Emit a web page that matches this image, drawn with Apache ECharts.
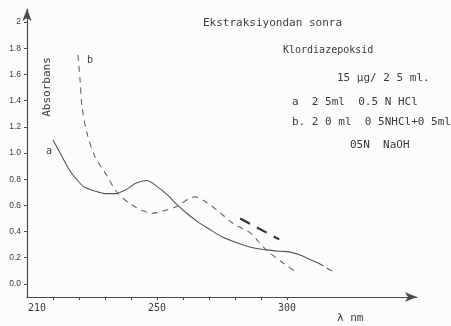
<!DOCTYPE html>
<html>
<head>
<meta charset="utf-8">
<script src="https://cdn.jsdelivr.net/npm/echarts@6.0.0/dist/echarts.min.js"></script>
<style>
  html, body { margin: 0; padding: 0; background: #fcfcfc; }
  #chart { width: 451px; height: 326px; }
</style>
</head>
<body>
<div id="chart"></div>
<script>
// curve a  (2.5 ml 0.5 N HCl), solid
var aX = [210, 213, 216, 219, 222, 226, 230, 234, 238, 242, 246, 250, 254, 258, 262, 266, 270, 275, 280, 286, 292, 297, 301, 305, 309, 312];
var aY = [1.10, 0.99, 0.88, 0.80, 0.74, 0.71, 0.69, 0.69, 0.72, 0.77, 0.79, 0.745, 0.68, 0.60, 0.53, 0.47, 0.42, 0.36, 0.32, 0.28, 0.26, 0.25, 0.245, 0.22, 0.185, 0.16];
// tail of curve a is drawn dashed
var aTailX = [312, 315, 318];
var aTailY = [0.16, 0.125, 0.09];

// curve b  (2.0 ml 0.5N HCl + 0.5 ml 0.5N NaOH), dashed
var bX = [219.6, 220.4, 221.2, 223.1, 226.2, 230, 235, 241.5, 248, 252.3, 258, 262, 264.6, 268.5, 273, 279, 285.8, 292, 298.5, 304];
var bY = [1.75, 1.56, 1.35, 1.15, 0.97, 0.85, 0.69, 0.59, 0.54, 0.557, 0.595, 0.65, 0.665, 0.63, 0.565, 0.465, 0.39, 0.26, 0.16, 0.084];

// short heavy pen stroke above curve b
var cX = [282, 297];
var cY = [0.50, 0.34];

var yTicks = [0, 0.2, 0.4, 0.6, 0.8, 1.0, 1.2, 1.4, 1.6, 1.8, 2];
var xTicks = [210, 220, 230, 240, 250, 260, 270, 280, 290, 300];
var xLabels = [210, 250, 300];

var noteLines = [
  'Ekstraksiyondan sonra',
  'Klordiazepoksid',
  '15 µg/ 2 5 ml.',
  'a  2 5ml  0.5 N HCl',
  'b. 2 0 ml  0 5NHCl+0 5ml',
  '05N  NaOH'
];

function pairs(xs, ys) {
  return xs.map(function (x, i) { return [x, ys[i]]; });
}

var ink = '#3c3c3c';
var mono = 'DejaVu Sans Mono';
var noteX = [203, 283, 337, 292, 292, 350];
var noteY = [23, 50, 78, 102, 122, 145];
var noteSize = [11, 10, 11, 11, 11, 11];

var graphics = noteLines.map(function (t, i) {
  return {
    type: 'text', x: noteX[i], y: noteY[i],
    style: { text: t, fill: ink, font: noteSize[i] + 'px "' + mono + '"', verticalAlign: 'middle' }
  };
});
graphics.push({
  type: 'text', x: 47.5, y: 87, rotation: Math.PI / 2,
  style: { text: 'Absorbans', fill: ink, font: '11px "' + mono + '"', align: 'center', verticalAlign: 'middle' }
});
graphics.push({ type: 'text', x: 46, y: 151, style: { text: 'a', fill: ink, font: '10px "' + mono + '"', verticalAlign: 'middle' } });
graphics.push({ type: 'text', x: 87, y: 60, style: { text: 'b', fill: ink, font: '10px "' + mono + '"', verticalAlign: 'middle' } });
graphics.push({ type: 'text', x: 337, y: 318, style: { text: 'λ nm', fill: ink, font: '11px "' + mono + '"', verticalAlign: 'middle' } });

var option = {
  backgroundColor: '#fcfcfc',
  animation: false,
  grid: { left: 27, right: 34, top: 9, bottom: 29 },
  xAxis: {
    type: 'value',
    min: 200,
    max: 350,
    splitLine: { show: false },
    axisLine: { onZero: false, symbol: ['none', 'arrow'], symbolSize: [7, 12], lineStyle: { color: '#4a4a4a', width: 1.2 } },
    axisTick: { customValues: xTicks, length: 3, lineStyle: { color: '#4a4a4a' } },
    axisLabel: {
      customValues: xLabels,
      margin: 6,
      color: ink,
      fontFamily: mono,
      fontSize: 10,
      formatter: function (v) { return v === 210 ? '{l|210}' : String(v); },
      rich: { l: { padding: [0, 32, 0, 0], fontFamily: mono, fontSize: 10, color: ink } }
    }
  },
  yAxis: {
    type: 'value',
    min: -0.1,
    max: 2.1,
    splitLine: { show: false },
    axisLine: { show: true, onZero: false, symbol: ['none', 'arrow'], symbolSize: [7, 12], lineStyle: { color: '#4a4a4a', width: 1.2 } },
    axisTick: { customValues: yTicks, length: 3, lineStyle: { color: '#4a4a4a' } },
    axisLabel: {
      customValues: yTicks,
      margin: 6,
      color: ink,
      fontFamily: 'Liberation Sans',
      fontSize: 8.5,
      formatter: function (v) { return v === 2 ? '2' : v.toFixed(1); }
    }
  },
  series: [
    {
      name: 'a', type: 'line', data: pairs(aX, aY), smooth: 0.3, showSymbol: false,
      lineStyle: { color: '#555', width: 1.1 }
    },
    {
      name: 'a tail', type: 'line', data: pairs(aTailX, aTailY), smooth: 0.3, showSymbol: false,
      lineStyle: { color: '#555', width: 1.1, type: [6, 4] }
    },
    {
      name: 'b', type: 'line', data: pairs(bX, bY), smooth: 0.3, showSymbol: false,
      lineStyle: { color: '#666', width: 1.1, type: [6, 5] }
    },
    {
      name: 'c', type: 'line', data: pairs(cX, cY), showSymbol: false,
      lineStyle: { color: '#333', width: 2.2, type: [11, 8] }
    }
  ],
  graphic: graphics
};

var myChart = echarts.init(document.getElementById('chart'));
myChart.setOption(option);
</script>
</body>
</html>
